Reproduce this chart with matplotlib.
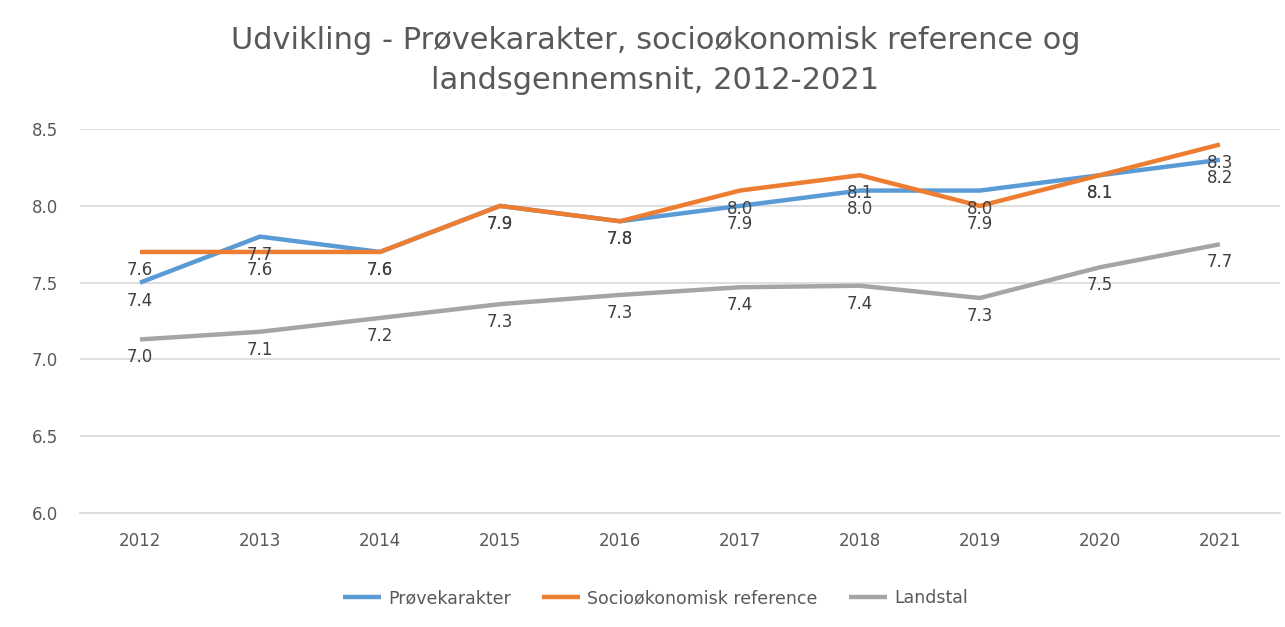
import matplotlib.pyplot as plt
import numpy as np

# --- Data ---
years = ["2012", "2013", "2014", "2015", "2016", "2017", "2018", "2019", "2020", "2021"]

provekarakter = [7.5, 7.8, 7.7, 8.0, 7.9, 8.0, 8.1, 8.1, 8.2, 8.3]
socio_ref = [7.7, 7.7, 7.7, 8.0, 7.9, 8.1, 8.2, 8.0, 8.2, 8.4]
landstal = [7.13, 7.18, 7.27, 7.36, 7.42, 7.47, 7.48, 7.40, 7.60, 7.75]

# data labels as shown in the chart
provekarakter_labels = ["7.4", "7.7", "7.6", "7.9", "7.8", "7.9", "8.0", "8.0", "8.1", "8.2"]
socio_ref_labels = ["7.6", "7.6", "7.6", "7.9", "7.8", "8.0", "8.1", "7.9", "8.1", "8.3"]
landstal_labels = ["7.0", "7.1", "7.2", "7.3", "7.3", "7.4", "7.4", "7.3", "7.5", "7.7"]

yticks = [6.0, 6.5, 7.0, 7.5, 8.0, 8.5]

text_col = "#595959"

fig = plt.figure(figsize=(12.85, 6.27), dpi=100)
ax = fig.add_axes([0.0623, 0.182, 0.9337, 0.612])

x = np.arange(len(years))

series = [
    (provekarakter, provekarakter_labels, "Prøvekarakter", "#5B9BD5"),
    (socio_ref, socio_ref_labels, "Socioøkonomisk reference", "#ED7D31"),
    (landstal, landstal_labels, "Landstal", "#A5A5A5"),
]

for vals, labels, name, col in series:
    ax.plot(x, vals, color=col, lw=3.2, label=name, solid_capstyle="butt", zorder=3)
    for xi, v, lab in zip(x, vals, labels):
        ax.annotate(lab, xy=(xi, v), xytext=(0, -13), textcoords="offset points",
                    ha="center", va="center", fontsize=12, color="#404040", zorder=4)

# --- Axes settings ---
ax.set_xlim(-0.5, len(years) - 0.5)
ax.set_ylim(6.0, 8.5)
ax.set_xticks(x)
ax.set_xticklabels(years)
ax.set_yticks(yticks)
ax.set_yticklabels([f"{t:.1f}" for t in yticks])
ax.tick_params(axis="both", length=0, labelsize=12, colors=text_col)
ax.tick_params(axis="x", pad=14)
ax.tick_params(axis="y", pad=16)
ax.yaxis.grid(True, color="#D9D9D9", lw=1.2)
ax.set_axisbelow(True)
for s in ["top", "right", "left"]:
    ax.spines[s].set_visible(False)
ax.spines["bottom"].set_color("#D9D9D9")
ax.spines["bottom"].set_linewidth(1.2)

fig.text(0.51, 0.935, "Udvikling - Prøvekarakter, socioøkonomisk reference og",
         ha="center", va="center", fontsize=22, color=text_col)
fig.text(0.51, 0.872, "landsgennemsnit, 2012-2021",
         ha="center", va="center", fontsize=22, color=text_col)

fig.legend(loc="center", bbox_to_anchor=(0.51, 0.046), ncol=3, frameon=False,
           fontsize=12.5, handlelength=2.2, columnspacing=1.8, handletextpad=0.4,
           labelcolor=text_col)

fig.savefig("out.png", dpi=100)
